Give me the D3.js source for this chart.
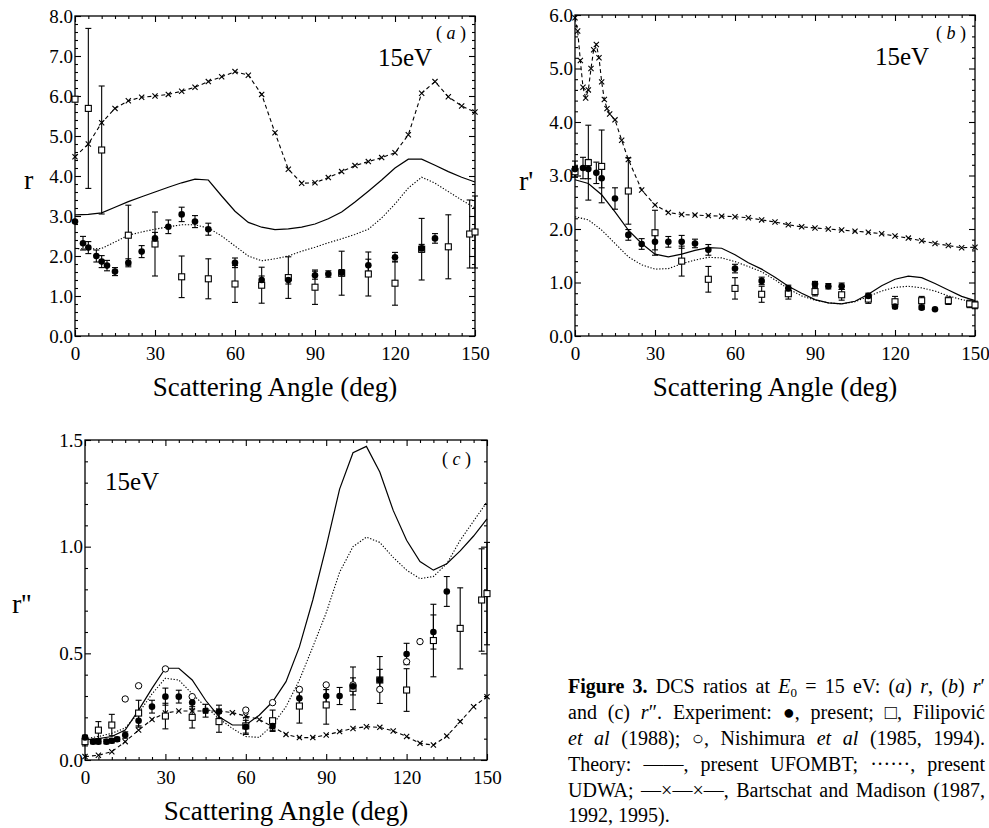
<!DOCTYPE html>
<html><head><meta charset="utf-8">
<script src="https://cdn.jsdelivr.net/npm/d3@7"></script>
<style>html,body{margin:0;padding:0;background:#fff;overflow:hidden}svg{display:block}</style>
</head><body>
<svg id="fig" width="989" height="828"></svg>
<script>
// Theory curves share one angular grid (deg)
const thetaGrid = [0,5,10,15,20,25,30,35,40,45,50,55,60,65,70,75,80,85,90,95,100,105,110,115,120,125,130,135,140,145,150];

// ---- (a) r ----
const rBM = [4.48,4.8,5.33,5.69,5.88,5.97,6.0,6.04,6.12,6.22,6.36,6.48,6.61,6.52,6.04,5.08,4.17,3.82,3.83,3.96,4.11,4.26,4.36,4.46,4.58,5.03,6.07,6.36,5.98,5.75,5.6];
const rUF = [3.03,3.04,3.08,3.22,3.36,3.48,3.6,3.72,3.83,3.92,3.9,3.5,3.12,2.84,2.72,2.66,2.68,2.72,2.8,2.93,3.1,3.35,3.62,3.9,4.2,4.42,4.42,4.27,4.11,3.97,3.85];
const rDW = [2.19,2.17,2.19,2.35,2.52,2.6,2.67,2.73,2.78,2.78,2.7,2.5,2.25,2.0,1.88,1.93,2.0,2.12,2.22,2.33,2.43,2.54,2.67,2.95,3.3,3.7,3.97,3.82,3.61,3.4,3.2];
// [angle, value, error]
const rPresent = [[0,2.86,0],[3,2.32,0.17],[5,2.21,0.15],[8,2.0,0.15],[10,1.86,0.15],[12,1.76,0.13],[15,1.61,0.1],[20,1.83,0.1],[25,2.11,0.15],[30,2.44,0.15],[35,2.73,0.17],[40,3.04,0.18],[45,2.86,0.15],[50,2.67,0.15],[60,1.83,0.12],[70,1.4,0.1],[80,1.4,0.1],[90,1.52,0.1],[95,1.55,0.08],[100,1.58,0.08],[110,1.77,0.15],[120,1.97,0.12],[130,2.19,0.1],[135,2.44,0.12]];
const rFilipovic = [[0,5.92,0],[5,5.69,2.0],[10,4.65,1.6],[20,2.52,0.75],[30,2.3,0.8],[40,1.48,0.52],[50,1.43,0.5],[60,1.3,0.46],[70,1.27,0.45],[80,1.46,0.52],[90,1.22,0.43],[100,1.57,0.55],[110,1.55,0.55],[120,1.32,0.55],[130,2.17,0.77],[140,2.23,0.8],[148,2.55,0.85],[150,2.6,0.9]];

// ---- (b) r' ----
const r1BMtheta = [0,1,2,3,4,5,6,7,8,9,10,11,12,13,15,17.5,20,25,30,35,40,45,50,55,60,65,70,75,80,85,90,95,100,105,110,115,120,125,130,135,140,145,150];
const r1BM = [5.95,5.7,5.15,4.65,4.45,4.6,5.0,5.35,5.45,5.2,4.75,4.42,4.25,4.15,4.04,3.66,3.3,2.73,2.45,2.31,2.27,2.26,2.25,2.24,2.23,2.21,2.17,2.13,2.08,2.04,2.02,2.0,1.98,1.96,1.94,1.91,1.87,1.83,1.78,1.73,1.69,1.65,1.66];
const r1UF = [2.92,2.85,2.64,2.32,1.98,1.73,1.53,1.48,1.53,1.6,1.65,1.64,1.52,1.37,1.25,1.1,0.93,0.8,0.68,0.62,0.6,0.65,0.78,0.94,1.06,1.12,1.09,0.98,0.86,0.74,0.66];
const r1DW = [2.23,2.17,1.98,1.73,1.48,1.33,1.25,1.26,1.35,1.42,1.47,1.46,1.39,1.3,1.2,1.05,0.88,0.75,0.67,0.62,0.6,0.64,0.74,0.84,0.91,0.93,0.9,0.84,0.75,0.68,0.63];
const r1Present = [[0,3.12,0.15],[3,3.14,0.2],[5,3.12,0.18],[8,3.05,0.2],[10,2.95,0.18],[15,2.57,0.2],[20,1.89,0.1],[25,1.72,0.1],[30,1.76,0.15],[35,1.76,0.1],[40,1.76,0.12],[45,1.73,0.08],[50,1.61,0.1],[60,1.26,0.08],[70,1.03,0.07],[80,0.89,0.06],[90,0.97,0.05],[95,0.93,0.05],[100,0.93,0.06],[110,0.75,0.05],[120,0.55,0.04],[130,0.53,0.03],[135,0.5,0]];
const r1Filipovic = [[0,3.07,0.1],[5,3.24,0.7],[10,3.17,0.68],[20,2.71,0.62],[30,1.93,0.42],[40,1.4,0.28],[50,1.06,0.24],[60,0.89,0.2],[70,0.78,0.15],[80,0.79,0.1],[90,0.83,0.08],[100,0.77,0.1],[110,0.69,0.08],[120,0.64,0.1],[130,0.66,0.08],[140,0.66,0.07],[148,0.6,0.07],[150,0.58,0.07]];

// ---- (c) r'' ----
const r2BM = [0.016,0.022,0.039,0.086,0.14,0.19,0.22,0.23,0.23,0.23,0.23,0.222,0.206,0.19,0.156,0.12,0.105,0.105,0.117,0.133,0.148,0.156,0.153,0.136,0.11,0.078,0.07,0.112,0.18,0.25,0.297];
const r2UF = [0.094,0.1,0.11,0.14,0.234,0.336,0.43,0.43,0.375,0.28,0.203,0.164,0.164,0.21,0.273,0.367,0.53,0.75,1.0,1.27,1.44,1.47,1.35,1.17,1.03,0.93,0.89,0.92,0.98,1.05,1.13];
const r2DW = [0.1,0.11,0.125,0.15,0.22,0.31,0.383,0.375,0.31,0.25,0.195,0.148,0.11,0.106,0.164,0.25,0.375,0.53,0.69,0.88,1.0,1.045,1.02,0.95,0.89,0.85,0.86,0.92,1.03,1.12,1.21];
const r2Present = [[0,0.106,0.01],[3,0.086,0.01],[5,0.086,0.01],[8,0.086,0.01],[10,0.09,0.01],[12,0.097,0.01],[15,0.117,0.015],[20,0.184,0.03],[25,0.25,0.03],[30,0.297,0.04],[35,0.297,0.03],[40,0.269,0.03],[45,0.231,0.03],[50,0.227,0.03],[60,0.156,0.03],[70,0.159,0.02],[80,0.289,0.03],[90,0.3,0.03],[95,0.3,0.04],[100,0.345,0.04],[110,0.375,0.05],[120,0.497,0.05],[130,0.6,0.08],[135,0.79,0.07]];
const r2Filipovic = [[0,0.086,0.02],[5,0.14,0.04],[10,0.164,0.05],[20,0.22,0.06],[30,0.206,0.06],[40,0.2,0.05],[50,0.18,0.05],[60,0.16,0.04],[70,0.184,0.05],[80,0.253,0.08],[90,0.258,0.09],[100,0.336,0.1],[110,0.375,0.11],[120,0.328,0.1],[130,0.56,0.17],[140,0.617,0.19],[148,0.75,0.24],[150,0.78,0.24]];
const r2Nishimura = [[15,0.286],[20,0.348],[30,0.427],[40,0.297],[60,0.234],[70,0.269],[80,0.331],[90,0.352],[100,0.352],[110,0.331],[120,0.461],[125,0.555]];

const xMajorTicks = [0,30,60,90,120,150];
const xMinorTicks = [5,10,15,20,25,35,40,45,50,55,65,70,75,80,85,95,100,105,110,115,125,130,135,140,145];

const SERIF = "'Liberation Serif','Times New Roman',Times,serif";
const svg = d3.select("#fig");

function drawPanel(o) {
  const g = svg.append("g");
  const x = d3.scaleLinear().domain([0,150]).range([o.left,o.right]);
  const y = d3.scaleLinear().domain([0,o.ymax]).range([o.bottom,o.top]);
  const W = o.right-o.left, H = o.bottom-o.top;

  const style = sel => { sel.select(".domain").remove();
    sel.attr("font-family",SERIF).attr("font-size",19);
    sel.selectAll("line").attr("stroke","#000").attr("stroke-width",1.1);
    sel.selectAll("text").attr("font-family",SERIF).attr("font-size",19).attr("fill","#000"); };

  // ticks pointing into the frame on all four sides
  g.append("g").attr("transform",`translate(0,${o.bottom})`)
    .call(d3.axisBottom(x).tickValues(xMajorTicks).tickSizeInner(-6).tickSizeOuter(0).tickPadding(11).tickFormat(d3.format("d"))).call(style);
  g.append("g").attr("transform",`translate(0,${o.bottom})`)
    .call(d3.axisBottom(x).tickValues(xMinorTicks).tickSizeInner(-3).tickSizeOuter(0).tickFormat("")).call(style);
  g.append("g").attr("transform",`translate(0,${o.top})`)
    .call(d3.axisTop(x).tickValues(xMajorTicks).tickSizeInner(-6).tickSizeOuter(0).tickFormat("")).call(style);
  g.append("g").attr("transform",`translate(0,${o.top})`)
    .call(d3.axisTop(x).tickValues(xMinorTicks).tickSizeInner(-3).tickSizeOuter(0).tickFormat("")).call(style);

  g.append("g").attr("transform",`translate(${o.left},0)`)
    .call(d3.axisLeft(y).tickValues(o.yMajor).tickSizeInner(-6).tickSizeOuter(0).tickPadding(2).tickFormat(d3.format(".1f"))).call(style);
  g.append("g").attr("transform",`translate(${o.left},0)`)
    .call(d3.axisLeft(y).tickValues(o.yMinor).tickSizeInner(-3).tickSizeOuter(0).tickFormat("")).call(style);
  g.append("g").attr("transform",`translate(${o.right},0)`)
    .call(d3.axisRight(y).tickValues(o.yMajor).tickSizeInner(-6).tickSizeOuter(0).tickFormat("")).call(style);
  g.append("g").attr("transform",`translate(${o.right},0)`)
    .call(d3.axisRight(y).tickValues(o.yMinor).tickSizeInner(-3).tickSizeOuter(0).tickFormat("")).call(style);

  g.append("rect").attr("x",o.left).attr("y",o.top).attr("width",W).attr("height",H)
    .attr("fill","none").attr("stroke","#000").attr("stroke-width",1.3);

  const plot = g.append("g");
  const line = d3.line().x(d=>x(d[0])).y(d=>y(d[1]));
  const pairs = (th,v) => th.map((t,i)=>[t,v[i]]);

  // theory: UFOMBT solid, UDWA dotted, Bartschat-Madison dashed with crosses
  plot.append("path").datum(pairs(thetaGrid,o.uf)).attr("d",line)
    .attr("fill","none").attr("stroke","#000").attr("stroke-width",1.2);
  plot.append("path").datum(pairs(thetaGrid,o.dw)).attr("d",line)
    .attr("fill","none").attr("stroke","#000").attr("stroke-width",1.1).attr("stroke-dasharray","1.3,1.7");
  const bm = pairs(o.bmTheta,o.bm);
  plot.append("path").datum(bm).attr("d",line)
    .attr("fill","none").attr("stroke","#000").attr("stroke-width",1.1).attr("stroke-dasharray","4,3");
  const s = 2.6;
  plot.selectAll(null).data(bm).enter().append("path")
    .attr("d",d=>`M${x(d[0])-s},${y(d[1])-s}L${x(d[0])+s},${y(d[1])+s}M${x(d[0])-s},${y(d[1])+s}L${x(d[0])+s},${y(d[1])-s}`)
    .attr("stroke","#000").attr("stroke-width",1.1);

  // error bars with caps
  const errBars = (data) => {
    const eb = plot.selectAll(null).data(data.filter(d=>d[2]>0)).enter().append("g");
    eb.append("line").attr("x1",d=>x(d[0])).attr("x2",d=>x(d[0])).attr("y1",d=>y(d[1]-d[2])).attr("y2",d=>y(d[1]+d[2]))
      .attr("stroke","#000").attr("stroke-width",1.1);
    [-1,1].forEach(sg => eb.append("line").attr("x1",d=>x(d[0])-3).attr("x2",d=>x(d[0])+3)
      .attr("y1",d=>y(d[1]+sg*d[2])).attr("y2",d=>y(d[1]+sg*d[2])).attr("stroke","#000").attr("stroke-width",1.1));
  };
  errBars(o.filip); errBars(o.present);

  plot.selectAll(null).data(o.filip).enter().append("rect")
    .attr("x",d=>x(d[0])-3).attr("y",d=>y(d[1])-3).attr("width",6).attr("height",6)
    .attr("fill","#fff").attr("stroke","#000").attr("stroke-width",1.1);
  if (o.nish) plot.selectAll(null).data(o.nish).enter().append("circle")
    .attr("cx",d=>x(d[0])).attr("cy",d=>y(d[1])).attr("r",3.2)
    .attr("fill","#fff").attr("stroke","#000").attr("stroke-width",1);
  plot.selectAll(null).data(o.present).enter().append("circle")
    .attr("cx",d=>x(d[0])).attr("cy",d=>y(d[1])).attr("r",3.3).attr("fill","#000");

  // labels
  g.append("text").attr("x",(o.left+o.right)/2).attr("y",o.bottom+60).attr("text-anchor","middle")
    .attr("font-family",SERIF).attr("font-size",27).text("Scattering Angle (deg)");
  g.append("text").attr("x",o.yLab[0]).attr("y",o.yLab[1]).attr("font-family",SERIF).attr("font-size",28).text(o.yTitle);
  g.append("text").attr("x",o.eLab[0]).attr("y",o.eLab[1]).attr("font-family",SERIF).attr("font-size",25).text("15eV");
  const pl = g.append("text").attr("x",o.pLab[0]).attr("y",o.pLab[1]).attr("font-family",SERIF).attr("font-size",18);
  pl.append("tspan").text("(");
  pl.append("tspan").attr("font-style","italic").text(" "+o.tag+" ");
  pl.append("tspan").text(")");
}

drawPanel({left:75,right:475,top:16,bottom:336,ymax:8,
  yMajor:[0,1,2,3,4,5,6,7,8], yMinor:[0.2,0.4,0.6,0.8,1.2,1.4,1.6,1.8,2.2,2.4,2.6,2.8,3.2,3.4,3.6,3.8,4.2,4.4,4.6,4.8,5.2,5.4,5.6,5.8,6.2,6.4,6.6,6.8,7.2,7.4,7.6,7.8],
  uf:rUF, dw:rDW, bmTheta:thetaGrid, bm:rBM, present:rPresent, filip:rFilipovic,
  yTitle:"r", yLab:[24,189], eLab:[378,66], pLab:[436,39], tag:"a"});

drawPanel({left:575,right:975,top:15,bottom:336,ymax:6,
  yMajor:[0,1,2,3,4,5,6], yMinor:[0.2,0.4,0.6,0.8,1.2,1.4,1.6,1.8,2.2,2.4,2.6,2.8,3.2,3.4,3.6,3.8,4.2,4.4,4.6,4.8,5.2,5.4,5.6,5.8],
  uf:r1UF, dw:r1DW, bmTheta:r1BMtheta, bm:r1BM, present:r1Present, filip:r1Filipovic,
  yTitle:"r'", yLab:[519,190], eLab:[875,65], pLab:[936,39], tag:"b"});

drawPanel({left:85,right:487,top:440,bottom:760,ymax:1.5,
  yMajor:[0,0.5,1.0,1.5], yMinor:[0.1,0.2,0.3,0.4,0.6,0.7,0.8,0.9,1.1,1.2,1.3,1.4],
  uf:r2UF, dw:r2DW, bmTheta:thetaGrid, bm:r2BM, present:r2Present, filip:r2Filipovic, nish:r2Nishimura,
  yTitle:"r''", yLab:[12,613], eLab:[105,490], pLab:[442,465], tag:"c"});

// caption block: justified lines, last line left-aligned
const capLines = [
  [["b","Figure 3."],["n"," DCS ratios at "],["i","E"],["sub","0"],["up"," = 15 eV: ("],["i","a"],["n",") "],["i","r"],["n",", ("],["i","b"],["n",") "],["i","r"],["n","′"]],
  [["n","and (c) "],["i","r"],["n","″. Experiment: ●, present; □, Filipović"]],
  [["i","et al"],["n"," (1988); ○, Nishimura "],["i","et al"],["n"," (1985, 1994)."]],
  [["n","Theory: ——, present UFOMBT; ······, present"]],
  [["n","UDWA; —×—×—, Bartschat and Madison (1987,"]],
  [["n","1992, 1995)."]]
];
const capY = [693,719,745,771,797,822];
const capLeft = 568, capRight = 985;
capLines.forEach((ln,i) => {
  const t = svg.append("text").attr("x",capLeft).attr("y",capY[i]).attr("font-family",SERIF).attr("font-size",20);
  ln.forEach(([k,s]) => {
    const sp = t.append("tspan").text(s);
    if (k==="b") sp.attr("font-weight","bold");
    if (k==="i") sp.attr("font-style","italic");
    if (k==="sub") sp.attr("font-size",13).attr("dy",4);
    if (k==="up") sp.attr("dy",-4);
  });
  if (i < capLines.length-1) {
    const gaps = ln.map(d=>d[1]).join("").split(" ").length - 1;
    const extra = capRight - capLeft - t.node().getComputedTextLength();
    if (gaps > 0 && extra > 0) t.attr("word-spacing", extra/gaps);
  }
});
</script>
</body></html>
